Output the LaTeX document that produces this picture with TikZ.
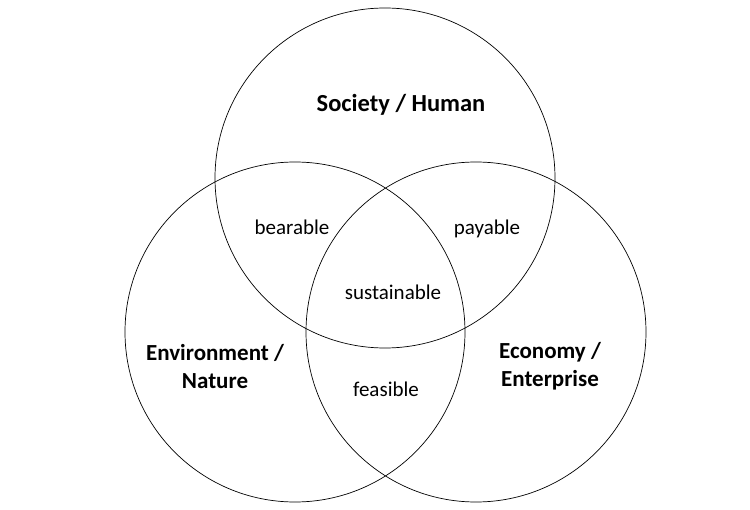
\documentclass[tikz,border=0pt]{standalone}
\usepackage{fontspec}
\setmainfont{Carlito}
\begin{document}
\begin{tikzpicture}[x=1pt, y=-1pt, line width=0.7pt,
    every node/.style={align=center, anchor=base, font=\fontsize{21}{24}\selectfont},
    sphere/.style={circle, draw, minimum size=340pt, inner sep=0pt, anchor=center},
    title/.style={font=\bfseries\fontsize{23}{28}\selectfont}]
    \useasboundingbox (0,0) rectangle (750,510);
    % --- the three circles ---
    \node[sphere] (Soc) at (385,178) {};
    \node[sphere] (Env) at (295,332) {};
    \node[sphere] (Eco) at (476,332) {};

    % --- circle titles ---
    \node[title, font=\bfseries\fontsize{24.5}{28}\selectfont] (Soclab) at (401,112) {Society / Human};
    \node[title, anchor=center] (Envlab) at (215,367) {Environment /\\Nature};
    \node[title, anchor=center] (Ecolab) at (550,366) {Economy /\\Enterprise};

    % --- overlaps ---
    \node (bear) at (292,235) {bearable};
    \node (pay) at (487,235) {payable};
    \node (sust) at (393,300) {sustainable};
    \node (feas) at (386,397) {feasible};
\end{tikzpicture}
\end{document}
